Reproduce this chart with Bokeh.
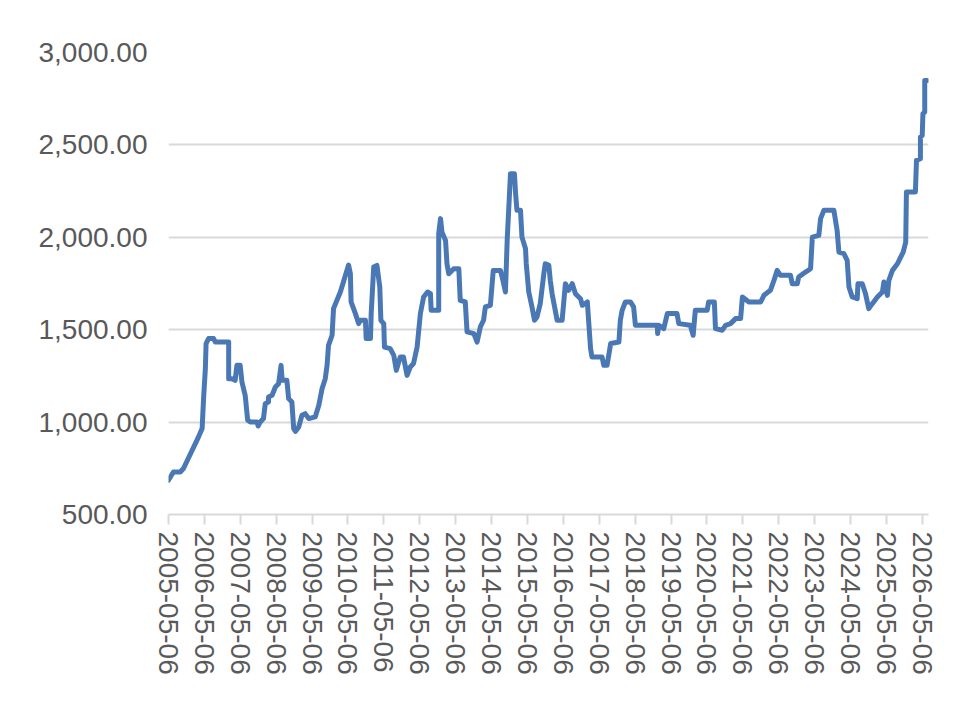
from datetime import datetime, timedelta
from bokeh.plotting import figure
from bokeh.models import (FixedTicker, NumeralTickFormatter, Range1d,
                          DatetimeTickFormatter)
from bokeh.embed import file_html
from bokeh.resources import INLINE

# ---- data (fractional year, value) ----
years = [
    2005.34, 2005.48, 2005.67, 2005.76, 2006.18, 2006.28, 2006.32, 2006.37, 2006.39, 2006.46,
    2006.60, 2006.65, 2007.02, 2007.02, 2007.11, 2007.20, 2007.25, 2007.34, 2007.39, 2007.48,
    2007.55, 2007.62, 2007.81, 2007.84, 2007.90, 2007.99, 2008.04, 2008.13, 2008.13, 2008.23,
    2008.32, 2008.41, 2008.48, 2008.51, 2008.64, 2008.69, 2008.78, 2008.83, 2008.88, 2008.97,
    2009.06, 2009.15, 2009.25, 2009.43, 2009.53, 2009.62, 2009.71, 2009.76, 2009.80, 2009.90,
    2009.94, 2010.13, 2010.36, 2010.41, 2010.43, 2010.55, 2010.64, 2010.69, 2010.83, 2010.85,
    2010.97, 2010.99, 2011.06, 2011.15, 2011.23, 2011.26, 2011.34, 2011.36, 2011.52, 2011.62,
    2011.69, 2011.80, 2011.89, 2011.99, 2012.08, 2012.17, 2012.27, 2012.36, 2012.45, 2012.56,
    2012.64, 2012.66, 2012.87, 2012.87, 2012.92, 2012.96, 2013.06, 2013.10, 2013.15, 2013.29,
    2013.43, 2013.47, 2013.61, 2013.66, 2013.85, 2013.94, 2014.03, 2014.12, 2014.17, 2014.31,
    2014.39, 2014.59, 2014.66, 2014.73, 2014.78, 2014.82, 2014.87, 2014.98, 2015.01, 2015.05,
    2015.15, 2015.19, 2015.29, 2015.31, 2015.38, 2015.47, 2015.54, 2015.61, 2015.70, 2015.80,
    2015.84, 2015.94, 2015.98, 2016.03, 2016.17, 2016.31, 2016.40, 2016.49, 2016.59, 2016.68,
    2016.82, 2016.87, 2017.01, 2017.10, 2017.14, 2017.42, 2017.47, 2017.56, 2017.66, 2017.89,
    2017.93, 2017.98, 2018.07, 2018.21, 2018.30, 2018.35, 2018.96, 2018.97, 2019.00, 2019.14,
    2019.24, 2019.51, 2019.56, 2019.88, 2019.96, 2020.02, 2020.35, 2020.39, 2020.55, 2020.58,
    2020.77, 2020.86, 2021.00, 2021.14, 2021.28, 2021.33, 2021.51, 2021.84, 2021.93, 2022.11,
    2022.21, 2022.30, 2022.39, 2022.67, 2022.72, 2022.86, 2022.90, 2023.09, 2023.23, 2023.28,
    2023.46, 2023.51, 2023.60, 2023.88, 2023.97, 2024.02, 2024.16, 2024.25, 2024.30, 2024.39,
    2024.53, 2024.55, 2024.67, 2024.76, 2024.85, 2024.95, 2025.09, 2025.23, 2025.27, 2025.37,
    2025.41, 2025.51, 2025.65, 2025.74, 2025.81, 2025.88, 2025.90, 2026.15, 2026.18, 2026.29,
    2026.29, 2026.34, 2026.36, 2026.41, 2026.41, 2026.48,
]
values = [
    685, 730, 730, 749, 920, 965, 1127, 1290, 1425, 1452,
    1452, 1433, 1433, 1235, 1235, 1226, 1307, 1307, 1217, 1145,
    1010, 1001, 1001, 979, 1001, 1019, 1100, 1109, 1136, 1145,
    1190, 1208, 1307, 1226, 1226, 1127, 1109, 965, 950, 974,
    1037, 1046, 1019, 1028, 1091, 1181, 1235, 1307, 1415, 1470,
    1614, 1704, 1850, 1803, 1650, 1587, 1533, 1551, 1551, 1452,
    1452, 1587, 1839, 1848, 1731, 1551, 1533, 1406, 1398, 1361,
    1280, 1352, 1352, 1253, 1298, 1317, 1406, 1587, 1677, 1704,
    1695, 1605, 1605, 2020, 2101, 2028, 1983, 1857, 1803, 1830,
    1830, 1659, 1650, 1488, 1479, 1433, 1515, 1551, 1623, 1632,
    1821, 1821, 1767, 1704, 1993, 2146, 2344, 2344, 2245, 2146,
    2146, 2001, 1938, 1857, 1704, 1623, 1551, 1569, 1641, 1803,
    1857, 1848, 1767, 1695, 1551, 1551, 1749, 1713, 1749, 1695,
    1668, 1632, 1650, 1398, 1352, 1352, 1307, 1307, 1425, 1433,
    1551, 1605, 1650, 1650, 1623, 1524, 1524, 1479, 1524, 1506,
    1587, 1587, 1533, 1524, 1470, 1605, 1605, 1650, 1650, 1506,
    1497, 1524, 1533, 1560, 1560, 1677, 1650, 1650, 1686, 1713,
    1767, 1821, 1794, 1794, 1749, 1749, 1785, 1812, 1830, 2001,
    2010, 2101, 2146, 2146, 2038, 1920, 1911, 1875, 1731, 1677,
    1668, 1749, 1749, 1695, 1614, 1641, 1677, 1704, 1758, 1686,
    1767, 1821, 1857, 1893, 1920, 1974, 2245, 2245, 2416, 2425,
    2542, 2551, 2669, 2677, 2849, 2849,
]

tick_labels = [f"{y}-05-06" for y in range(2005, 2027)]
y_ticks = [500, 1000, 1500, 2000, 2500, 3000]


def yr_to_dt(y):
    yi = int(y)
    start = datetime(yi, 1, 1)
    ndays = (datetime(yi + 1, 1, 1) - start).days
    return start + timedelta(days=(y - yi) * ndays)


dates = [yr_to_dt(y) for y in years]
tick_dates = [datetime.strptime(s, "%Y-%m-%d") for s in tick_labels]
epoch = datetime(1970, 1, 1)
tick_ms = [(d - epoch).total_seconds() * 1000.0 for d in tick_dates]

TEXT = "#595959"
GRID = "#d9d9d9"
FONT = "Liberation Sans"

p = figure(width=980, height=723, x_axis_type="datetime",
           output_backend="svg", toolbar_location=None,
           min_border_left=168, min_border_right=52,
           min_border_top=52, min_border_bottom=209)
p.x_range = Range1d(datetime(2005, 5, 6), datetime(2026, 7, 8))
p.y_range = Range1d(500, 3000)
p.outline_line_color = None
p.background_fill_color = "white"
p.border_fill_color = "white"

p.line(dates, values, line_color="#4a78b5", line_width=5,
       line_join="round", line_cap="round")

# y axis
p.yaxis.ticker = FixedTicker(ticks=y_ticks)
p.yaxis.formatter = NumeralTickFormatter(format="0,0.00")
p.yaxis.axis_line_color = None
p.yaxis.major_tick_line_color = None
p.yaxis.minor_tick_line_color = None
p.yaxis.major_label_standoff = 15
p.yaxis.major_label_text_font = FONT
p.yaxis.major_label_text_font_size = "28px"
p.yaxis.major_label_text_color = TEXT

# x axis
p.xaxis.ticker = FixedTicker(ticks=tick_ms)
p.xaxis.formatter = DatetimeTickFormatter(
    days="%Y-%m-%d", months="%Y-%m-%d", years="%Y-%m-%d",
    hours="%Y-%m-%d", minutes="%Y-%m-%d", seconds="%Y-%m-%d",
    milliseconds="%Y-%m-%d", microseconds="%Y-%m-%d", minsec="%Y-%m-%d",
    hourmin="%Y-%m-%d")
p.xaxis.major_label_orientation = "vertical"
p.xaxis.axis_line_color = GRID
p.xaxis.axis_line_width = 2
p.xaxis.major_tick_line_color = GRID
p.xaxis.major_tick_line_width = 2
p.xaxis.major_tick_in = 0
p.xaxis.major_tick_out = 10
p.xaxis.minor_tick_line_color = None
p.xaxis.major_label_standoff = 7
p.xaxis.major_label_text_font = FONT
p.xaxis.major_label_text_font_size = "28px"
p.xaxis.major_label_text_color = TEXT

# grid
p.xgrid.grid_line_color = None
p.ygrid.ticker = FixedTicker(ticks=y_ticks[1:])
p.ygrid.grid_line_color = GRID
p.ygrid.grid_line_width = 2

open("out.html", "w").write(file_html(p, INLINE))
